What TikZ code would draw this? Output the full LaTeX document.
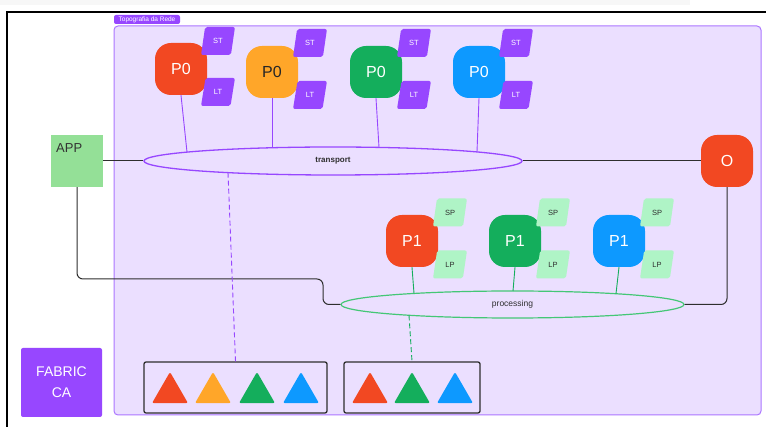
\documentclass[tikz,border=0pt]{standalone}
\usepackage{fontspec}
\setmainfont{Liberation Sans}
\usetikzlibrary{shapes.geometric}
\definecolor{fred}{HTML}{F24822}
\definecolor{forange}{HTML}{FFA629}
\definecolor{fgreen}{HTML}{14AE5C}
\definecolor{fblue}{HTML}{0D99FF}
\definecolor{fpurple}{HTML}{9747FF}
\definecolor{lav}{HTML}{EBDFFF}
\definecolor{lavborder}{HTML}{AC76FF}
\definecolor{spgreen}{HTML}{AFF4C6}
\definecolor{appgreen}{HTML}{94E097}
\definecolor{procgreen}{HTML}{44C776}
\definecolor{darkline}{HTML}{2E2E2E}
\tikzset{
  pbox/.style={minimum width=52pt, minimum height=52pt, rounded corners=16pt, inner sep=0pt, text=white, font=\fontsize{16}{16}\selectfont},
  para/.style={trapezium, trapezium left angle=74, trapezium right angle=106, trapezium stretches=true, minimum width=34pt, minimum height=28pt, inner sep=0pt, rounded corners=2pt, font=\fontsize{7.5}{8}\selectfont},
  stbox/.style={para, fill=fpurple, text=white},
  spbox/.style={para, fill=spgreen, text=darkline},
  pline/.style={draw=fpurple, line width=0.9pt},
  gline/.style={draw=fgreen, line width=0.9pt},
  conn/.style={draw=darkline, line width=1pt},
  tri/.style={regular polygon, regular polygon sides=3, minimum size=41.6pt, inner sep=0pt, rounded corners=2pt},
  keybox/.style={draw=darkline, line width=1.3pt, rounded corners=2pt, minimum height=51pt, inner sep=0pt},
}
\begin{document}
\begin{tikzpicture}[x=1pt,y=-1pt]
\useasboundingbox (0,0) rectangle (766,427);
\fill[white] (0,0) rectangle (766,427);
\fill[black!3] (0,0) rectangle (690,5);
% outer frame
\draw[line width=2pt] (7,427) -- (7,12) -- (766,12);
% container
\draw[draw=lavborder, fill=lav, line width=1pt, rounded corners=4pt] (114,26) rectangle (761,415);
\node[fill=fpurple, text=white, rounded corners=2pt, minimum width=66pt, minimum height=9pt, inner sep=0pt, font=\fontsize{6.5}{7}\selectfont] (tag) at (147,19.5) {Topografia da Rede};

% P0 nodes
\node[pbox, fill=fred] (p0a) at (181,69) {P0};
\node[pbox, fill=forange, text=black!85] (p0b) at (272,72) {P0};
\node[pbox, fill=fgreen] (p0c) at (376,72) {P0};
\node[pbox, fill=fblue] (p0d) at (479,72) {P0};
\node[stbox] (sta) at (218,41) {ST};
\node[stbox] (lta) at (218,92) {LT};
\node[stbox] (stb) at (310,43) {ST};
\node[stbox] (ltb) at (310,95) {LT};
\node[stbox] (stc) at (414,43) {ST};
\node[stbox] (ltc) at (414,95) {LT};
\node[stbox] (std) at (516,43) {ST};
\node[stbox] (ltd) at (516,95) {LT};

% transport ellipse
\node[ellipse, draw=fpurple, line width=1.3pt, fill=lav, minimum width=378pt, minimum height=28pt, inner sep=0pt, text=darkline, font=\bfseries\fontsize{8}{8}\selectfont] (transport) at (333,161) {transport};
\coordinate (ta) at (187,152.1);
\coordinate (tb) at (272,147.8);
\coordinate (tc) at (379,147.4);
\coordinate (td) at (477,151.9);
\coordinate (tdash) at (228,172.6);
\draw[pline] (p0a.south) -- (ta);
\draw[pline] (p0b.south) -- (tb);
\draw[pline] (p0c.south) -- (tc);
\draw[pline] (p0d.south) -- (td);

% APP
\node[fill=appgreen, minimum width=52pt, minimum height=52pt, inner sep=0pt] (app) at (77,161) {};
\node[anchor=north west, inner sep=0pt, text=black!80, font=\fontsize{13}{13}\selectfont] (apptext) at (56,143) {APP};

% O
\node[pbox, fill=fred] (o) at (727,161) {O};

% P1 nodes
\node[pbox, fill=fred] (p1a) at (412,241) {P1};
\node[pbox, fill=fgreen] (p1b) at (515,241) {P1};
\node[pbox, fill=fblue] (p1c) at (619,241) {P1};
\node[spbox] (spa) at (450,212.5) {SP};
\node[spbox] (lpa) at (450,264.5) {LP};
\node[spbox] (spb) at (553,212.5) {SP};
\node[spbox] (lpb) at (553,264.5) {LP};
\node[spbox] (spc) at (657,212.5) {SP};
\node[spbox] (lpc) at (657,264.5) {LP};

% processing ellipse
\node[ellipse, draw=procgreen, line width=1.2pt, fill=lav, minimum width=343pt, minimum height=27pt, inner sep=0pt, text=darkline, font=\fontsize{8.5}{9}\selectfont] (proc) at (512.5,304.5) {processing};
\coordinate (pa) at (414,293.4);
\coordinate (pb) at (513,291);
\coordinate (pc) at (616,293.7);
\coordinate (pdash) at (409,315.3);
\draw[gline] (p1a.south) -- (pa);
\draw[gline] (p1b.south) -- (pb);
\draw[gline] (p1c.south) -- (pc);

% connectors
\draw[conn] (app.east) -- (transport.west);
\draw[conn] (transport.east) -- (o.west);
\draw[conn, rounded corners=6pt] (o.south) |- (proc.east);
\coordinate (k1) at (323,279);
\draw[conn, rounded corners=6pt] (app.south) |- (k1) |- (proc.west);

% key boxes
\node[keybox, minimum width=183pt] (box1) at (235.5,387.5) {};
\node[keybox, minimum width=136pt] (box2) at (412,387.5) {};
\node[tri, fill=fred] (t1) at (170,392.8) {};
\node[tri, fill=forange] (t2) at (213,392.8) {};
\node[tri, fill=fgreen] (t3) at (257,392.8) {};
\node[tri, fill=fblue] (t4) at (301,392.8) {};
\node[tri, fill=fred] (t5) at (370,392.8) {};
\node[tri, fill=fgreen] (t6) at (412,392.8) {};
\node[tri, fill=fblue] (t7) at (455,392.8) {};

\draw[pline, dashed, dash pattern=on 5pt off 3pt] (tdash) -- (box1.north);
\draw[gline, dashed, dash pattern=on 5pt off 3pt] (pdash) -- (box2.north);

% FABRIC CA
\node[fill=fpurple, text=white, rounded corners=2pt, minimum width=81pt, minimum height=69pt, inner sep=0pt, align=center, font=\fontsize{14}{21}\selectfont] (fabric) at (61.5,382.5) {FABRIC\\CA};
\end{tikzpicture}
\end{document}
